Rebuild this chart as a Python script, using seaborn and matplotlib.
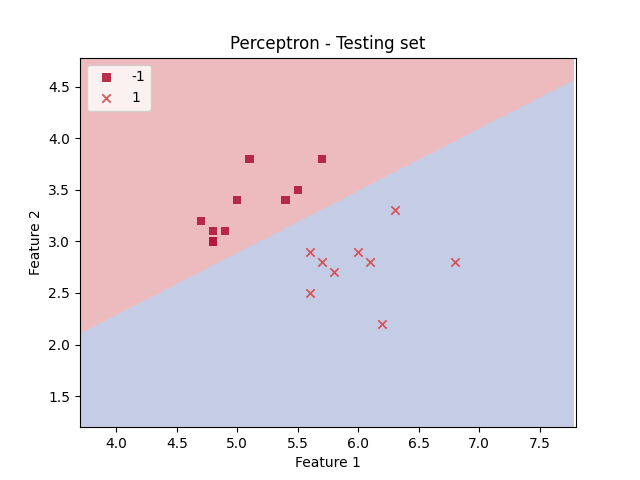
import numpy as np
import pandas as pd
import matplotlib
matplotlib.use("Agg")
import matplotlib.pyplot as plt
from matplotlib.colors import ListedColormap
import seaborn as sns

x_neg = [4.7, 4.8, 4.8, 4.8, 4.9, 5.0, 5.1, 5.4, 5.5, 5.7]
y_neg = [3.2, 3.1, 3.0, 3.0, 3.1, 3.4, 3.8, 3.4, 3.5, 3.8]
x_pos = [5.6, 5.7, 5.8, 5.6, 6.0, 6.1, 6.3, 6.2, 6.8]
y_pos = [2.9, 2.8, 2.7, 2.5, 2.9, 2.8, 3.3, 2.2, 2.8]
# decision boundary: w0 + w1*x + w2*y = 0
w = [0.128, -0.602, 1.0]

dneg = pd.DataFrame({"f1": x_neg, "f2": y_neg})
dpos = pd.DataFrame({"f1": x_pos, "f2": y_pos})

fig, ax = plt.subplots(figsize=(6.4, 4.8), dpi=100)
xx, yy = np.meshgrid(np.arange(3.7, 7.8, 0.02), np.arange(1.2, 4.78, 0.02))
zz = np.where(w[0] + w[1] * xx + w[2] * yy >= 0, -1, 1)
ax.contourf(xx, yy, zz, levels=[-2, 0, 2], cmap=ListedColormap(["#edbbbd", "#c5cde6"]))
sns.scatterplot(data=dneg, x="f1", y="f2", marker="s", color="#b2183b",
                s=36, alpha=0.9, ax=ax, edgecolor="none", label="-1")
sns.scatterplot(data=dpos, x="f1", y="f2", marker="x", color="#d6484a",
                s=36, alpha=0.9, ax=ax, linewidth=1.3, label="1")
ax.set_xlim(3.7, 7.8)
ax.set_ylim(1.2, 4.78)
ax.set_xlabel("Feature 1")
ax.set_ylabel("Feature 2")
ax.set_title("Perceptron - Testing set")
ax.legend(loc="upper left", title=None)
fig.savefig("out.png")
